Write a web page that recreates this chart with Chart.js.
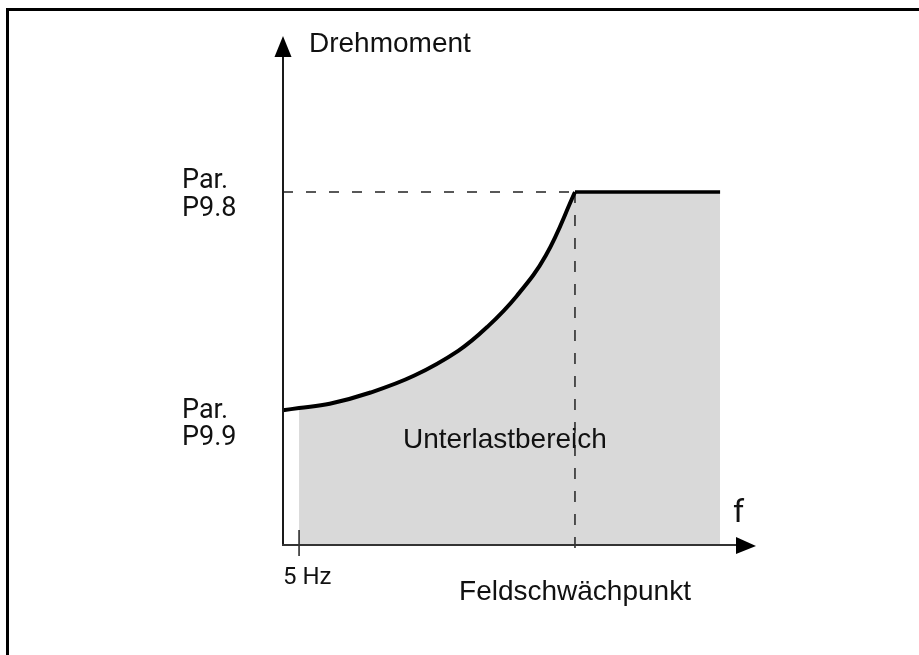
<!DOCTYPE html>
<html>
<head>
<meta charset="utf-8">
<title>Unterlastbereich</title>
<script src="https://cdn.jsdelivr.net/npm/chart.js@4"></script>
<style>
    body { margin: 0; background: #fff; }
    canvas { display: block; }
</style>
</head>
<body>
<canvas id="myChart" width="919" height="655"></canvas>
<script>
// Torque curve (x: % of field weakening point, y: % of P9.8)
const curveX = [0, 5.5, 16, 30, 45, 60, 70, 80, 90, 100];
const curveY = [38.2, 38.8, 40.0, 43.2, 48.0, 55.0, 61.8, 70.5, 82.0, 100];
// Flat part after field weakening point
const flatX = [100, 149.7];
const flatY = [100, 100];
// Tick values and labels
const xTickValues = [5.5, 100];
const xTickLabels = ['5 Hz', 'Feldschwächpunkt'];
const yTickValues = [100, 38.2];
const yTickLabels = [['Par.', 'P9.8'], ['Par.', 'P9.9']];
const yTitle = 'Drehmoment';
const xTitle = 'f';
const areaLabel = 'Unterlastbereich';

function toPoints(xs, ys) {
    return xs.map((x, i) => ({ x: x, y: ys[i] }));
}

const curvePts = toPoints(curveX, curveY);
const flatPts = toPoints(flatX, flatY);

// frame, axes with arrows and all the texts
const decorPlugin = {
    id: 'decor',
    beforeDraw(chart) {
        const ctx = chart.ctx;
        ctx.save();
        ctx.fillStyle = '#fff';
        ctx.fillRect(0, 0, chart.width, chart.height);
        ctx.fillStyle = '#000';
        ctx.fillRect(6, 8, chart.width - 6, 3);
        ctx.fillRect(6, 8, 3, chart.height - 8);
        ctx.restore();
    },
    afterDatasetsDraw(chart) {
        const ctx = chart.ctx;
        const xs = chart.scales.x, ys = chart.scales.y;
        const x0 = xs.getPixelForValue(0);
        const y0 = ys.getPixelForValue(0);
        const area = chart.chartArea;
        ctx.save();

        // y axis
        ctx.strokeStyle = '#1a1a1a';
        ctx.lineWidth = 2;
        ctx.beginPath();
        ctx.moveTo(x0, y0);
        ctx.lineTo(x0, area.top + 21);
        ctx.stroke();
        ctx.fillStyle = '#000';
        ctx.beginPath();
        ctx.moveTo(x0, area.top);
        ctx.lineTo(x0 - 8.5, area.top + 21);
        ctx.lineTo(x0 + 8.5, area.top + 21);
        ctx.closePath();
        ctx.fill();

        // x axis
        ctx.strokeStyle = '#333';
        ctx.beginPath();
        ctx.moveTo(x0 - 1, y0);
        ctx.lineTo(area.right - 20, y0);
        ctx.stroke();
        ctx.beginPath();
        ctx.moveTo(area.right, y0 + 1);
        ctx.lineTo(area.right - 20, y0 - 8);
        ctx.lineTo(area.right - 20, y0 + 9);
        ctx.closePath();
        ctx.fill();

        // texts
        ctx.fillStyle = '#111';
        ctx.textBaseline = 'alphabetic';
        ctx.font = '28px "Liberation Sans", Arial, sans-serif';
        ctx.textAlign = 'left';
        ctx.fillText(yTitle, x0 + 26, area.top + 16);
        ctx.textAlign = 'center';
        ctx.fillText(areaLabel, xs.getPixelForValue(76), ys.getPixelForValue(27.6));
        ctx.fillText(xTickLabels[1], xs.getPixelForValue(xTickValues[1]), y0 + 55);

        ctx.font = '27px Roboto, sans-serif';
        ctx.textAlign = 'left';
        const yOffsets = [[-4, 24], [8, 35]];
        yTickLabels.forEach((lines, i) => {
            const py = ys.getPixelForValue(yTickValues[i]);
            ctx.fillText(lines[0], 182, py + yOffsets[i][0]);
            ctx.fillText(lines[1], 182, py + yOffsets[i][1]);
        });

        ctx.font = '24px Roboto, sans-serif';
        ctx.fillText(xTickLabels[0], x0, y0 + 39);

        ctx.font = '32px Roboto, sans-serif';
        ctx.fillText(xTitle, area.right - 23, y0 - 23);
        ctx.restore();
    }
};

const ctx = document.getElementById('myChart').getContext('2d');
const myChart = new Chart(ctx, {
    type: 'line',
    data: {
        datasets: [
            {
                label: 'Kurve',
                data: curvePts,
                borderColor: '#000',
                borderWidth: 4,
                tension: 0.4,
                pointRadius: 0,
                fill: false,
                clip: false,
                order: 0
            },
            {
                label: 'Flach',
                data: flatPts,
                borderColor: '#000',
                borderWidth: 3.5,
                borderCapStyle: 'butt',
                pointRadius: 0,
                fill: false,
                order: 1
            },
            {
                label: 'Bereich Kurve',
                data: curvePts.slice(1),
                borderWidth: 0,
                borderColor: 'rgba(0,0,0,0)',
                backgroundColor: '#d9d9d9',
                tension: 0.4,
                pointRadius: 0,
                fill: 'origin',
                order: 5
            },
            {
                label: 'Bereich Flach',
                data: flatPts,
                borderWidth: 0,
                borderColor: 'rgba(0,0,0,0)',
                backgroundColor: '#d9d9d9',
                pointRadius: 0,
                fill: 'origin',
                order: 5
            },
            {
                label: 'P9.8 Linie',
                data: [{ x: 0, y: yTickValues[0] }, { x: xTickValues[1], y: yTickValues[0] }],
                borderColor: '#222',
                borderWidth: 1.5,
                borderDash: [10, 13],
                pointRadius: 0,
                fill: false,
                order: 2
            },
            {
                label: 'Feldschwächpunkt Linie',
                data: [{ x: xTickValues[1], y: yTickValues[0] }, { x: xTickValues[1], y: -3.1 }],
                borderColor: '#222',
                borderWidth: 1.5,
                borderDash: [11, 12],
                pointRadius: 0,
                fill: false,
                clip: false,
                order: 2
            },
            {
                label: '5 Hz Strich',
                data: [{ x: xTickValues[0], y: 4.25 }, { x: xTickValues[0], y: -3.1 }],
                borderColor: '#222',
                borderWidth: 1.5,
                pointRadius: 0,
                fill: false,
                clip: false,
                order: 2
            }
        ]
    },
    options: {
        responsive: false,
        animation: false,
        layout: {
            padding: { left: 283, top: 36, right: 163, bottom: 110 }
        },
        scales: {
            x: { type: 'linear', min: 0, max: 162, display: false },
            y: { type: 'linear', min: 0, max: 144.2, display: false }
        },
        plugins: {
            legend: { display: false },
            tooltip: { enabled: false }
        }
    },
    plugins: [decorPlugin]
});
</script>
</body>
</html>
